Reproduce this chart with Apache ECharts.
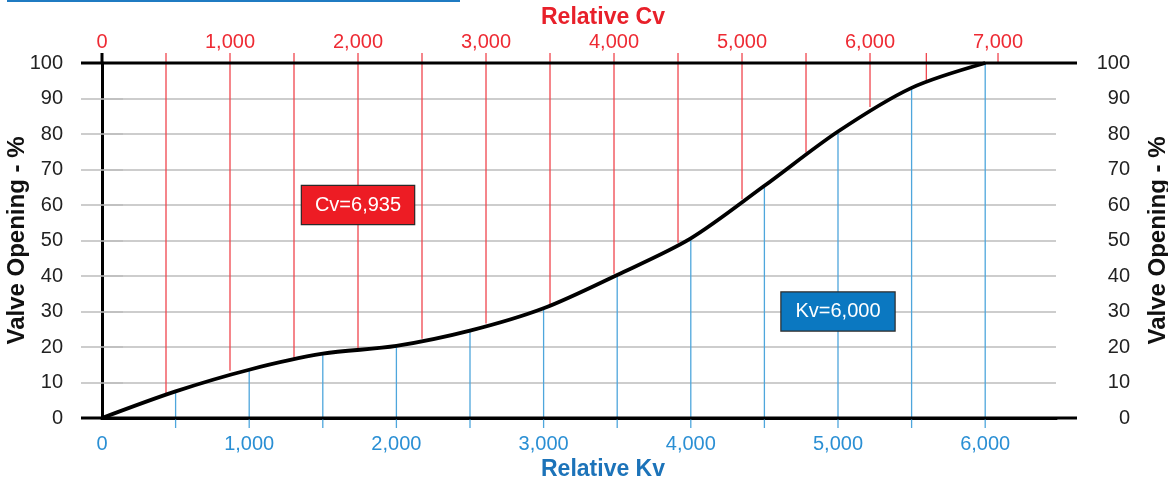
<!DOCTYPE html>
<html>
<head>
<meta charset="utf-8">
<script src="https://cdn.jsdelivr.net/npm/echarts@6/dist/echarts.min.js"></script>
<style>
  html, body { margin: 0; padding: 0; background: #fff; }
  #chart { width: 1168px; height: 482px; }
</style>
</head>
<body>
<div id="chart"></div>
<script>
// curve: valve opening (%) against relative Kv
const kvPoints = [0, 500, 1000, 1500, 2000, 2500, 3000, 3500, 4000, 4500, 5000, 5500, 6000]
const kvOpening = [0, 7.5, 13.6, 18.1, 20.3, 24.6, 30.9, 40.3, 50.6, 65.4, 80.7, 93, 100]
// red drop lines on the Cv scale (top axis), opening where they meet the curve
const cvLevels = [500, 1000, 1500, 2000, 2500, 3000, 3500, 4000, 4500, 5000, 5500, 6000, 6440, 7000]
const cvOpening = [6.8, 13.3, 17.0, 19.7, 22.3, 26.6, 32.1, 40.6, 49.4, 61.6, 74.8, 87.6, 95.1, 100]
const yTicks = [0, 10, 20, 30, 40, 50, 60, 70, 80, 90, 100]
const kvMax = 6481
const cvMax = 7453
const cvNote = { text: 'Cv=6,935', at: [2000, 60] }
const kvNote = { text: 'Kv=6,000', at: [5000, 30] }

const font = 'Liberation Sans, Arial, sans-serif'
const red = '#ee2a33'
const blue = '#2a8fd4'

const fmt = v => v.toLocaleString('en-US')

const chart = echarts.init(document.getElementById('chart'))

function dropLine (color, fromTop) {
  return function (params, api) {
    const x = api.value(0)
    const y = api.value(1)
    const base = api.coord([x, fromTop ? 100 : 0])
    const end = api.coord([x, y])
    return {
      type: 'line',
      shape: { x1: base[0], y1: base[1] + (fromTop ? -10 : 10), x2: end[0], y2: end[1] },
      style: { stroke: color, lineWidth: 1.3 }
    }
  }
}

chart.setOption({
  animation: false,
  textStyle: { fontFamily: font },
  graphic: [{
    type: 'rect',
    shape: { x: 7, y: 0, width: 453, height: 2 },
    style: { fill: '#1f7bc2' }
  }],
  grid: { left: 102, right: 112, top: 63, bottom: 64, containLabel: false, outerBoundsMode: 'none' },
  xAxis: [
    {
      type: 'value',
      position: 'bottom',
      min: 0,
      max: kvMax,
      interval: 1000,
      name: 'Relative Kv',
      nameLocation: 'middle',
      nameGap: 40,
      nameMoveOverlap: false,
      nameTextStyle: { color: '#1c73b9', fontSize: 23, fontWeight: 'bold', fontFamily: font, padding: [0, 0, 0, 48] },
      axisLine: { lineStyle: { color: '#000', width: 3 } },
      axisTick: { show: false },
      splitLine: { show: false },
      axisLabel: { color: blue, fontSize: 20, margin: 16, showMaxLabel: false, formatter: fmt }
    },
    {
      type: 'value',
      position: 'top',
      min: 0,
      max: cvMax,
      interval: 1000,
      name: 'Relative Cv',
      nameLocation: 'middle',
      nameGap: 34,
      nameMoveOverlap: false,
      nameTextStyle: { color: '#e8202a', fontSize: 23, fontWeight: 'bold', fontFamily: font, padding: [0, 0, 0, 48] },
      axisLine: { lineStyle: { color: '#000', width: 3 } },
      axisTick: { show: false },
      splitLine: { show: false },
      axisLabel: { color: red, fontSize: 20, margin: 11, showMaxLabel: false, formatter: fmt }
    }
  ],
  yAxis: [
    {
      type: 'value',
      position: 'left',
      min: 0,
      max: 100,
      interval: 10,
      name: 'Valve Opening - %',
      nameLocation: 'middle',
      nameRotate: 90,
      nameGap: 73,
      nameMoveOverlap: false,
      nameTextStyle: { color: '#111', fontSize: 24, fontWeight: 'bold', fontFamily: font },
      axisLine: { lineStyle: { color: '#000', width: 3 } },
      axisTick: { length: 21, lineStyle: { color: '#bdbdbd', width: 1.5 } },
      splitLine: { lineStyle: { color: '#bdbdbd', width: 1.5 } },
      axisLabel: { color: '#222', fontSize: 20, margin: 39, customValues: yTicks }
    },
    {
      type: 'value',
      position: 'right',
      min: 0,
      max: 100,
      interval: 10,
      name: 'Valve Opening - %',
      nameLocation: 'middle',
      nameRotate: 90,
      nameGap: 90,
      nameMoveOverlap: false,
      nameTextStyle: { color: '#111', fontSize: 24, fontWeight: 'bold', fontFamily: font },
      axisLine: { lineStyle: { color: '#000', width: 3 } },
      axisTick: { length: 21, lineStyle: { color: '#bdbdbd', width: 1.5 } },
      splitLine: { show: false },
      axisLabel: { color: '#222', fontSize: 20, margin: 74, align: 'right', customValues: yTicks }
    }
  ],
  series: [
    {
      // black frame ends sticking out past the plot
      type: 'custom',
      xAxisIndex: 0,
      yAxisIndex: 0,
      silent: true,
      z: 5,
      data: [[0, 0], [0, 100]],
      renderItem: function (params, api) {
        const y = api.value(1)
        const a = api.coord([0, y])
        const b = api.coord([kvMax, y])
        const children = [{
          type: 'line',
          shape: { x1: a[0] - 21, y1: a[1], x2: b[0] + 21, y2: b[1] },
          style: { stroke: '#000', lineWidth: 3 }
        }]
        if (y === 100) {
          children.push({
            type: 'line',
            shape: { x1: a[0], y1: a[1] - 10, x2: a[0], y2: a[1] },
            style: { stroke: '#000', lineWidth: 3 }
          })
        }
        return { type: 'group', children: children }
      }
    },
    {
      type: 'custom',
      xAxisIndex: 1,
      yAxisIndex: 0,
      silent: true,
      z: 2,
      data: cvLevels.map((c, i) => [c, cvOpening[i]]),
      renderItem: dropLine('#f0454d', true)
    },
    {
      type: 'custom',
      xAxisIndex: 0,
      yAxisIndex: 0,
      silent: true,
      z: 2,
      data: kvPoints.slice(1).map((k, i) => [k, kvOpening[i + 1]]),
      renderItem: dropLine('#4ea6dc', false)
    },
    {
      type: 'line',
      xAxisIndex: 0,
      yAxisIndex: 0,
      data: kvPoints.map((k, i) => [k, kvOpening[i]]),
      smooth: 0.3,
      showSymbol: false,
      lineStyle: { color: '#000', width: 3.8 },
      z: 6
    },
    {
      type: 'scatter',
      xAxisIndex: 1,
      yAxisIndex: 0,
      symbolSize: 0,
      z: 8,
      itemStyle: { opacity: 1 },
      data: [cvNote.at],
      label: {
        show: true,
        position: 'inside',
        formatter: cvNote.text,
        color: '#fff',
        fontSize: 20,
        lineHeight: 20,
        backgroundColor: '#ed1c24',
        borderColor: '#2a2a2a',
        borderWidth: 1.2,
        padding: [9, 13]
      }
    },
    {
      type: 'scatter',
      xAxisIndex: 0,
      yAxisIndex: 0,
      symbolSize: 0,
      z: 8,
      itemStyle: { opacity: 1 },
      data: [kvNote.at],
      label: {
        show: true,
        position: 'inside',
        formatter: kvNote.text,
        color: '#fff',
        fontSize: 20,
        lineHeight: 20,
        backgroundColor: '#0b78c1',
        borderColor: '#2a2a2a',
        borderWidth: 1.2,
        padding: [9, 14]
      }
    }
  ]
})
</script>
</body>
</html>
